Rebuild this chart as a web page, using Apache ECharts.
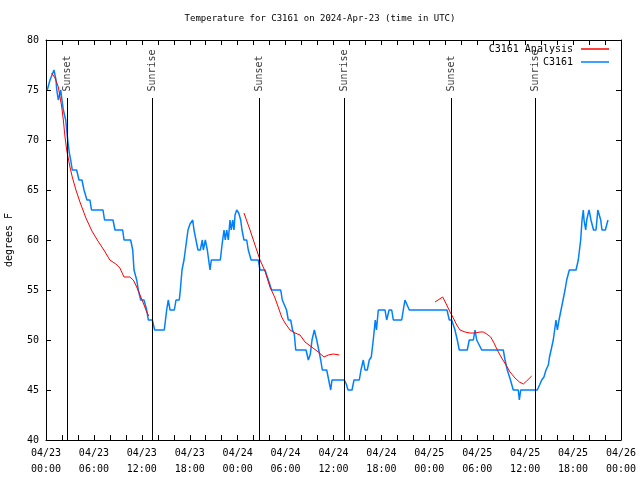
<!DOCTYPE html>
<html><head><meta charset="utf-8">
<script src="https://cdn.jsdelivr.net/npm/echarts@6/dist/echarts.min.js"></script>
<style>html,body{margin:0;padding:0;background:#fff}#c{width:640px;height:480px}</style>
</head><body><div id="c"></div>
<script>
// time = hours since 2024-04-23 00:00 UTC
const startDay = 23;
const sunEvents = ['Sunset','Sunrise','Sunset','Sunrise','Sunset','Sunrise'];
const sunTimes = [2.67, 13.31, 26.71, 37.35, 50.75, 61.27];

const observed = [[0.16,75],[0.5,76],[1.0,77],[1.25,76],[1.35,75],[1.54,74],[1.84,75],[2.0,74],[2.17,73],[2.47,72],[2.72,70],[2.92,68.7],[3.09,68],[3.29,67],[3.84,67],[4.13,66],[4.5,66],[4.76,65],[5.13,64],[5.5,64],[5.7,63],[7.14,63],[7.33,62],[8.39,62],[8.64,61],[9.6,61],[9.77,60],[10.6,60],[10.86,59],[11.02,57],[11.36,56],[11.56,55],[11.86,54],[12.27,54],[12.61,53],[12.81,52],[13.31,52],[13.61,51],[14.81,51],[15.11,53],[15.31,54],[15.53,53],[16.07,53],[16.28,54],[16.69,54],[16.82,55],[17.03,57],[17.28,58],[17.53,59.5],[17.78,61],[18.03,61.6],[18.37,62],[18.53,61],[18.78,60],[19.03,59],[19.32,59],[19.57,60],[19.7,59],[19.95,60],[20.1,60],[20.2,59],[20.54,57],[20.7,58],[21.83,58],[22.04,59.5],[22.29,61],[22.45,60],[22.63,61],[22.83,60],[23.04,62],[23.2,61],[23.38,62],[23.54,61],[23.67,62.5],[23.88,63],[24.13,62.7],[24.38,62],[24.54,61],[24.79,60],[25.13,60],[25.33,59],[25.68,58],[26.58,58],[26.8,57],[27.42,57],[27.84,56],[28.24,55],[29.39,55],[29.59,54],[29.84,54],[30.12,53],[30.34,52],[30.64,52],[30.87,51],[31.09,50.6],[31.27,49],[32.56,49],[32.85,48],[33.1,48.6],[33.31,50],[33.6,51],[33.9,50],[34.15,49],[34.4,48],[34.6,47],[35.15,47],[35.4,46],[35.65,45],[35.81,46],[37.35,46],[37.6,45.6],[37.82,45],[38.32,45],[38.57,46],[39.23,46],[39.44,47],[39.73,48],[39.94,47],[40.23,47],[40.48,48],[40.73,48.3],[40.98,50],[41.23,52],[41.38,51],[41.61,53],[42.45,53],[42.66,52],[42.96,53],[43.29,53],[43.49,52],[44.54,52],[44.74,53],[44.95,54],[45.49,53],[50.21,53],[50.5,52],[50.8,52],[51.21,51],[51.5,50],[51.75,49],[52.75,49],[53.0,50],[53.51,50],[53.72,51],[53.93,50],[54.56,49],[57.26,49],[57.48,48],[57.76,47],[58.16,46],[58.51,45],[59.14,45],[59.27,44],[59.44,45],[61.52,45],[61.8,45.5],[62.07,46],[62.35,46.3],[62.61,47],[62.9,47.5],[63.05,48.3],[63.3,49.2],[63.52,50],[63.86,52],[64.03,51],[64.24,52],[64.49,53],[64.74,54],[64.99,55],[65.2,56],[65.53,57],[66.37,57],[66.65,58],[66.87,58],[66.95,60],[67.12,62],[67.28,63],[67.37,62],[67.58,61],[67.71,62],[67.9,62.7],[68.0,63],[68.24,62],[68.56,61],[68.87,61],[69.1,63],[69.28,63],[69.46,62],[69.62,61],[70.04,61],[70.37,62]];

const analysis = [[0.71,76.7],[1.13,76.2],[1.54,75.3],[1.97,73.3],[2.17,72],[2.38,70.3],[2.59,69],[3.0,67.3],[3.29,66.3],[3.75,65],[4.25,63.8],[5.0,62.2],[5.75,60.9],[6.5,59.9],[7.25,59],[8.0,58],[8.75,57.6],[9.25,57.2],[9.77,56.3],[10.5,56.3],[10.93,56],[11.36,55.3],[11.77,54.5],[12.18,53.7],[12.61,52.8],[12.86,52.4],
  [18,null],
  [24.79,62.7],[25.55,61],[26.17,59.5],[26.8,58],[27.42,56.9],[28.05,55.3],[28.26,55.2],[28.68,54.2],[28.89,54],[29.51,52.3],[29.93,51.7],[30.55,51],[31.18,50.7],[31.81,50.5],[32.43,49.8],[33.27,49.3],[34.1,48.8],[34.81,48.3],[35.35,48.5],[35.97,48.6],[36.73,48.5],
  [42,null],
  [48.71,53.8],[49.67,54.3],[50.18,53.5],[50.59,52.8],[51.0,52.2],[51.43,51.5],[51.84,51],[52.47,50.8],[53.09,50.7],[53.72,50.7],[54.35,50.8],[54.76,50.8],[55.18,50.6],[55.68,50.3],[56.1,49.7],[56.51,49],[57.06,48.2],[57.6,47.5],[58.1,46.8],[58.73,46.2],[59.27,45.8],[59.77,45.6],[60.19,45.9],[60.82,46.4]];

const FONT = 'DejaVu Sans Mono';
const chart = echarts.init(document.getElementById('c'), null, {renderer:'canvas'});
function fmtX(v){
  if (v % 6 !== 0) return '';
  const d = startDay + Math.floor(v/24);
  const h = v % 24;
  return '04/' + d + '\n' + (h<10?'0':'') + h + ':00';
}
const tickStyle = {show:true, inside:true, length:5, lineStyle:{color:'#000', width:1}};
const lineAx = {show:true, onZero:false, lineStyle:{color:'#000', width:1}};
const legendBase = {right:31, padding:0, align:'right', icon:'rect', itemWidth:28, itemHeight:1.5,
  textStyle:{fontFamily:FONT, fontSize:10, color:'#000', padding:[0,3,0,0]}};
chart.setOption({
  animation:false,
  backgroundColor:'#fff',
  title:{text:'Temperature for C3161 on 2024-Apr-23 (time in UTC)', left:'center', top:14, padding:0,
    textStyle:{fontFamily:FONT, fontSize:9, fontWeight:'normal', color:'#000'}},
  legend:[
    Object.assign({data:['C3161 Analysis'], top:44}, legendBase),
    Object.assign({data:['C3161'], top:57}, legendBase)
  ],
  grid:{left:46, right:19, top:40, bottom:40, containLabel:false, outerBoundsMode:'none'},
  xAxis:[
    {type:'value', min:0, max:72, interval:2, position:'bottom', axisLine:lineAx, axisTick:tickStyle,
     splitLine:{show:false},
     axisLabel:{formatter:fmtX, fontFamily:FONT, fontSize:10, color:'#000', margin:5, lineHeight:16, hideOverlap:false, showMinLabel:true, showMaxLabel:true}},
    {type:'value', min:0, max:72, interval:2, position:'top', axisLine:lineAx, axisTick:tickStyle,
     splitLine:{show:false}, axisLabel:{show:false}}
  ],
  yAxis:[
    {type:'value', min:40, max:80, interval:5, position:'left', axisLine:lineAx, axisTick:tickStyle,
     splitLine:{show:false}, name:'degrees F', nameLocation:'middle', nameGap:32, nameRotate:90,
     nameTextStyle:{fontFamily:FONT, fontSize:10, color:'#000'},
     axisLabel:{fontFamily:FONT, fontSize:10, color:'#000', margin:7}},
    {type:'value', min:40, max:80, interval:5, position:'right', axisLine:lineAx, axisTick:tickStyle,
     splitLine:{show:false}, axisLabel:{show:false}}
  ],
  series:[
    {name:'C3161 Analysis', type:'line', data:analysis, symbol:'none', connectNulls:false,
     lineStyle:{color:'#ff0000', width:1}, itemStyle:{color:'#ff0000'}, z:3},
    {name:'C3161', type:'line', data:observed, symbol:'none',
     lineStyle:{color:'#0080ff', width:1.5}, itemStyle:{color:'#0080ff'}, z:2},
    {name:'sun', type:'line', data:[], symbol:'none',
     markLine:{silent:true, symbol:['none','none'], animation:false,
       lineStyle:{color:'#000', width:1, type:'solid'}, label:{show:false},
       data: sunTimes.map(t => [{coord:[t,40]},{coord:[t,74.2]}])}},
    {name:'sunlabels', type:'scatter', symbolSize:1, silent:true,
     itemStyle:{color:'rgba(0,0,0,0)'},
     data: sunTimes.map((t,i)=>({value:[t,74.8], name:sunEvents[i]})),
     label:{show:true, formatter:'{b}', rotate:90, position:[1,0], align:'left', verticalAlign:'middle',
       fontFamily:FONT, fontSize:10, color:'#000'}}
  ]
});
</script></body></html>
